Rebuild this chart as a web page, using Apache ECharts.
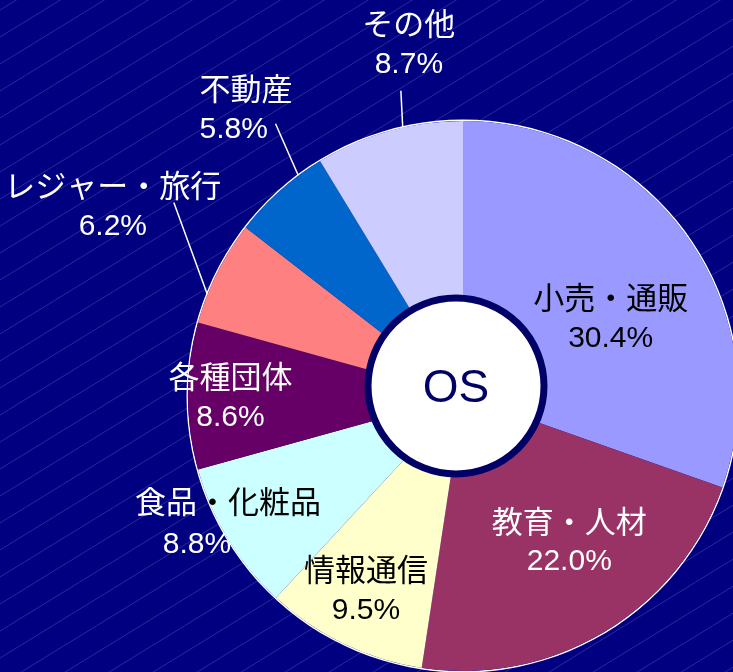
<!DOCTYPE html>
<html>
<head>
<meta charset="utf-8">
<script src="https://cdn.jsdelivr.net/npm/echarts@6/dist/echarts.min.js"></script>
<style>
html, body { margin: 0; padding: 0; background: #000080; }
#chart { width: 733px; height: 672px; }
</style>
</head>
<body>
<div id="chart"></div>
<script>
// data
var categories = ['小売・通販', '教育・人材', '情報通信', '食品・化粧品', '各種団体', 'レジャー・旅行', '不動産', 'その他'];
var shares = [30.4, 22.0, 9.5, 8.8, 8.6, 6.2, 5.8, 8.7];
var centerTitle = 'OS';

var colors = ['#9999ff', '#993366', '#ffffcc', '#ccffff', '#660066', '#ff8080', '#0066cc', '#ccccff'];
var FONT = "'Liberation Sans', 'Noto Sans CJK JP', sans-serif";
var PIE_CX = 463, PIE_CY = 396, PIE_R = 275;

// label tweaks (excel "best fit" placement)
var darkLabel = { '小売・通販': 1, '情報通信': 1 };
var outsideLabel = { 'レジャー・旅行': 1, '不動産': 1, 'その他': 1 };
var splitName = { '食品・化粧品': 2 };   // first n chars white, rest black
var tweak = {
	'小売・通販': { dx: 33, dy: 5 },
	'教育・人材': { dx: 34, dy: 27 },
	'情報通信': { dx: -36, dy: 69 },
	'食品・化粧品': { dx: -115, dy: 58 },
	'各種団体': { dx: -92, dy: 3 },
	'レジャー・旅行': { dx: 27, dy: -56, line: [-5, 61, -5] },
	'不動産': { dx: 31, dy: -65, align: 'left', line: [5, 76, 13] },
	'その他': { dx: 77, dy: -66, line: [3, -8, 45] }
};

// striped background tile
function makeStripes() {
	var c = document.createElement('canvas');
	c.width = 44; c.height = 27;
	var ctx = c.getContext('2d');
	ctx.fillStyle = '#000080';
	ctx.fillRect(0, 0, 44, 27);
	ctx.strokeStyle = 'rgba(140,140,220,0.3)';
	ctx.lineWidth = 1;
	ctx.beginPath();
	ctx.moveTo(0, 10); ctx.lineTo(44, -17);
	ctx.moveTo(0, 37); ctx.lineTo(44, 10);
	ctx.stroke();
	return c;
}

function txt(color, size, lh, pad) {
	var s = { color: color, fontFamily: FONT, fontSize: size, lineHeight: lh };
	if (pad) s.padding = pad;
	return s;
}

var pieData = categories.map(function (name, i) {
	var item = { name: name, value: shares[i] };
	if (outsideLabel[name]) {
		item.label = { position: 'outside' };
		item.labelLine = { show: true, length: 20, length2: 0, lineStyle: { color: '#fff', width: 1.5 } };
	}
	return item;
});

var chart = echarts.init(document.getElementById('chart'));
chart.setOption({
	animation: false,
	backgroundColor: { image: makeStripes(), repeat: 'repeat' },
	color: colors,
	graphic: [{
		type: 'circle',
		z: 100,
		shape: { cx: 456, cy: 386, r: 88 },
		style: { fill: '#fff', stroke: '#000066', lineWidth: 7 }
	}, {
		type: 'text',
		z: 101,
		x: 456, y: 389,
		style: {
			text: centerTitle, fill: '#000066', font: '46px ' + FONT,
			textAlign: 'center', textVerticalAlign: 'middle'
		}
	}],
	series: [{
		type: 'pie',
		center: [PIE_CX, PIE_CY],
		radius: [PIE_R, PIE_R + 1.5],
		silent: true,
		label: { show: false },
		labelLine: { show: false },
		itemStyle: { color: '#fff' },
		data: [{ value: 1 }]
	}, {
		type: 'pie',
		center: [PIE_CX, PIE_CY],
		radius: [0, PIE_R],
		startAngle: 90,
		clockwise: true,
		avoidLabelOverlap: false,
		silent: true,
		itemStyle: { borderWidth: 0 },
		label: {
			show: true,
			position: 'inside',
			fontFamily: FONT,
			fontSize: 30,
			formatter: function (p) {
				var pct = p.value.toFixed(1) + '%';
				var n = splitName[p.name];
				if (n) {
					return '{w|' + p.name.slice(0, n) + '}{k|' + p.name.slice(n) + '}\n{wp|' + pct + '}';
				}
				var d = darkLabel[p.name] ? 'k' : 'w';
				return '{' + d + '|' + p.name + '}\n{' + d + 'n|' + pct + '}';
			},
			rich: {
				w: txt('#fff', 31, 38),
				k: txt('#000', 31, 38),
				wn: txt('#fff', 30, 38),
				kn: txt('#000', 30, 38),
				wp: txt('#fff', 30, 42, [0, 62, 0, 0])
			}
		},
		labelLine: { show: false },
		labelLayout: function (p) {
			var t = tweak[categories[p.dataIndex]];
			if (!t) return {};
			var r = p.labelRect;
			var out = {
				x: r.x + r.width / 2 + t.dx,
				y: r.y + r.height / 2 + t.dy,
				align: 'center',
				verticalAlign: 'middle'
			};
			if (t.align === 'left') {
				out.x = r.x + t.dx;
				out.align = 'left';
			}
			if (t.line && p.labelLinePoints) {
				var a = p.labelLinePoints[0];
				var ang = t.line[0] * Math.PI / 180;
				var vx = a[0] - PIE_CX, vy = a[1] - PIE_CY;
				var sx = PIE_CX + vx * Math.cos(ang) - vy * Math.sin(ang);
				var sy = PIE_CY + vx * Math.sin(ang) + vy * Math.cos(ang);
				var ex = out.x + t.line[1], ey = out.y + t.line[2];
				out.labelLinePoints = [[sx, sy], [ex, ey], [ex, ey]];
			}
			return out;
		},
		data: pieData
	}]
});
</script>
</body>
</html>
